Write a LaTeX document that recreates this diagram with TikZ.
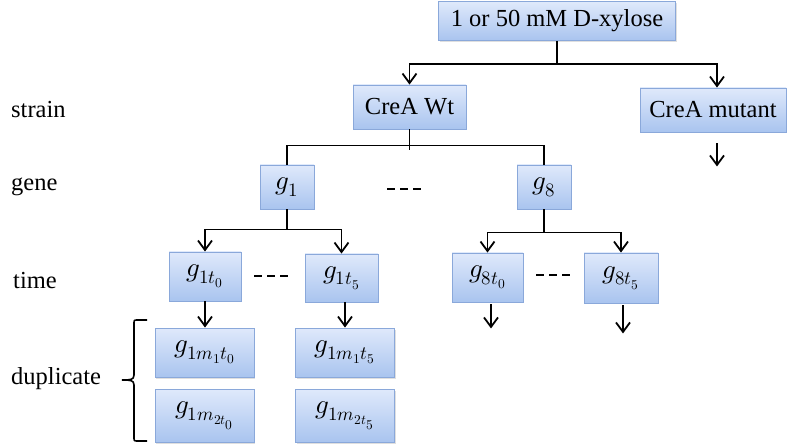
\documentclass[tikz,border=0pt]{standalone}
\usepackage{fontspec}
\usepackage{unicode-math}
\setmainfont{Liberation Serif}
\setmathfont{Latin Modern Math}
\usetikzlibrary{arrows.meta,shadows}

\definecolor{boxtop}{HTML}{DFE9FB}
\definecolor{boxbot}{HTML}{A9C4EF}
\definecolor{boxline}{HTML}{8AA8DA}

\tikzset{
  box/.style={rectangle, draw=boxline, line width=0.9pt,
    top color=boxtop, bottom color=boxbot, inner sep=0pt,
    drop shadow={opacity=0.25, shadow xshift=1.2pt, shadow yshift=-1.5pt},
    font=\fontsize{24.5}{29}\selectfont},
  mbox/.style={box, font=\fontsize{27}{31}\selectfont},
  conn/.style={line width=1.8pt, black},
  arr/.style={conn, -{Straight Barb[length=9.5pt,width=14pt]}},
  ellip/.style={line width=1.8pt, dash pattern=on 8pt off 5pt},
  rowlabel/.style={anchor=west, inner sep=0pt, font=\fontsize{24.5}{29}\selectfont}
}

\begin{document}
\begin{tikzpicture}[x=1pt, y=-1pt]
\useasboundingbox (0,0) rectangle (787,446);

% row labels
\node[rowlabel] (lstrain) at (11,110) {strain};
\node[rowlabel] (lgene)   at (11,187) {gene};
\node[rowlabel] (ltime)   at (13,281) {time};
\node[rowlabel] (ldup)    at (11,379) {duplicate};

% boxes
\node[box, minimum width=237pt, minimum height=39pt] (top) at (557,21) {1 or 50 mM D-xylose};
\node[box, minimum width=113pt, minimum height=44pt] (wt)  at (409.5,107) {CreA Wt};
\node[box, minimum width=146pt, minimum height=44pt] (mut) at (713,110) {CreA mutant};

\node[mbox, minimum width=54pt, minimum height=44pt] (g1) at (287,187) {$g_1$};
\node[mbox, minimum width=54pt, minimum height=44pt] (g8) at (544,187) {$g_8$};

\node[mbox, minimum width=72pt, minimum height=49pt] (g1t0) at (205,276.5) {$g_{1t_0}$};
\node[mbox, minimum width=73pt, minimum height=48pt] (g1t5) at (341.5,278) {$g_{1t_5}$};
\node[mbox, minimum width=71pt, minimum height=49pt] (g8t0) at (487.5,277.5) {$g_{8t_0}$};
\node[mbox, minimum width=74pt, minimum height=50pt] (g8t5) at (621,278) {$g_{8t_5}$};

\node[mbox, minimum width=99pt, minimum height=49pt] (g1m1t0) at (204.5,352.5) {$g_{1m_1t_0}$};
\node[mbox, minimum width=99pt, minimum height=53pt] (g1m2t0) at (204.5,415.5) {$g_{1m_{2t_0}}$};
\node[mbox, minimum width=99pt, minimum height=49pt] (g1m1t5) at (345,352.5) {$g_{1m_1t_5}$};
\node[mbox, minimum width=99pt, minimum height=53pt] (g1m2t5) at (345,415.5) {$g_{1m_{2t_5}}$};

% substrate -> strains
\draw[conn] (top.south) -- ++(0,23) coordinate (topj);
\draw[arr] (topj) -| (wt.north);
\draw[arr] (topj) -| ([xshift=4pt]mut.north);
\draw[arr] (mut.south) ++(4,11) -- ++(0,23) coordinate (mutend);

% wild type -> genes
\draw[conn] (wt.south) -- ++(0,21);
\path (wt.south) ++(0,16) coordinate (wtj);
\draw[conn] (wtj) -| (g1.north);
\draw[conn] (wtj) -| (g8.north);

% genes -> time points
\draw[conn] (g1.south) -- ++(0,20) coordinate (g1j);
\draw[arr] (g1j) -| (g1t0.north);
\draw[arr] (g1j) -| (g1t5.north);
\draw[conn] (g8.south) -- ++(0,23) coordinate (g8j);
\draw[arr] (g8j) -| (g8t0.north);
\draw[arr] (g8j) -| (g8t5.north);

% time points -> duplicates
\draw[arr] (g1t0.south) -- (g1t0.south |- g1m1t0.north);
\draw[arr] (g1m1t5.north |- g1t5.south) -- (g1m1t5.north);
\draw[arr] (g8t0.south) ++(3.5,2) -- ++(0,24) coordinate (g8t0end);
\draw[arr] (g8t5.south) ++(2,2) -- ++(0,28) coordinate (g8t5end);

% ellipses between siblings
\draw[ellip] (387,189) -- (422,189);
\draw[ellip] (254,276) -- (289,276);
\draw[ellip] (536,275) -- (570,275);

% brace grouping the duplicates
\draw[conn, line width=1.6pt]
  (147,320) -- (138,320) .. controls (134,320) .. (134,324)
  -- (134,375) .. controls (134,380) and (130,380) .. (122,380)
  .. controls (130,380) and (134,380) .. (134,385)
  -- (134,437) .. controls (134,441) .. (138,441) -- (147,441);
\end{tikzpicture}
\end{document}
